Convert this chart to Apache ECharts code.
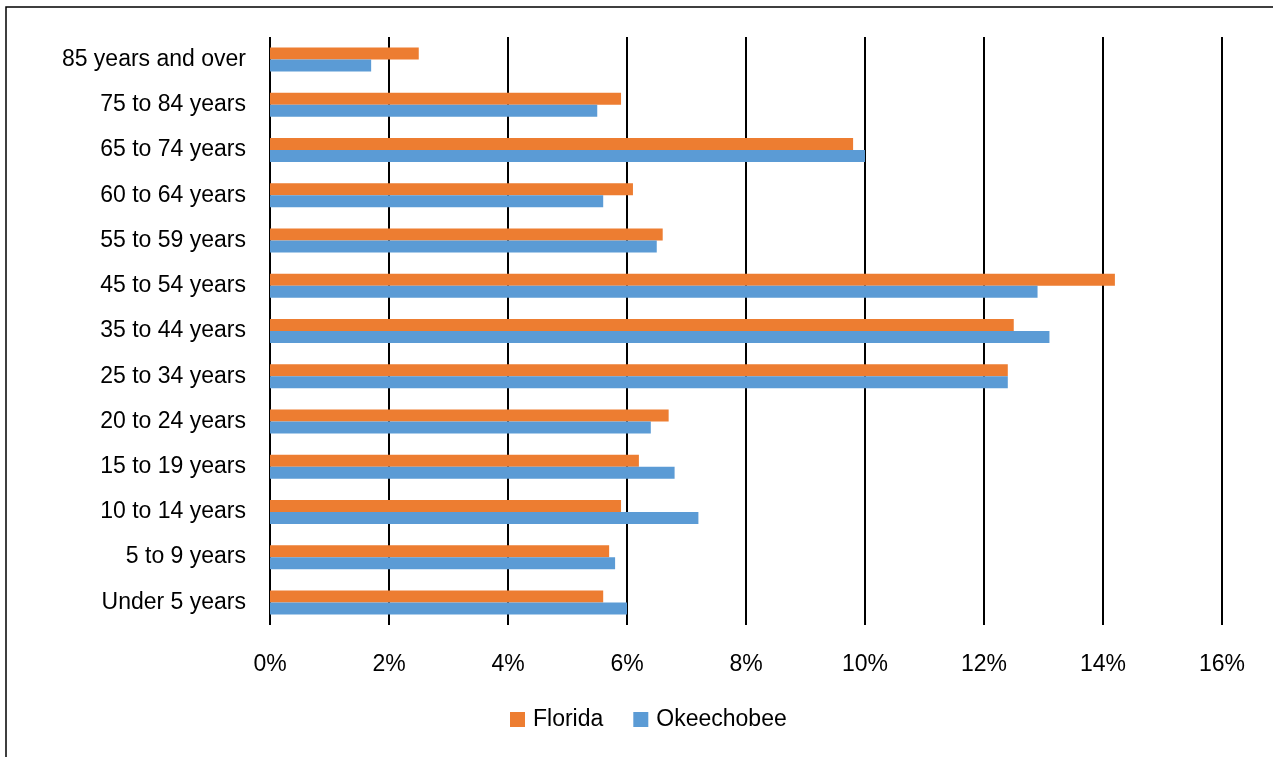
<!DOCTYPE html>
<html>
<head>
<meta charset="utf-8">
<script src="https://cdn.jsdelivr.net/npm/echarts@6/dist/echarts.min.js"></script>
<style>html,body{margin:0;padding:0;background:#fff;}#c{width:1273px;height:757px;}</style>
</head>
<body>
<div id="c"></div>
<script>
// categories bottom-to-top (ECharts category y axis starts at bottom)
const categories = ["Under 5 years","5 to 9 years","10 to 14 years","15 to 19 years","20 to 24 years","25 to 34 years","35 to 44 years","45 to 54 years","55 to 59 years","60 to 64 years","65 to 74 years","75 to 84 years","85 years and over"];
const florida = [5.6, 5.7, 5.9, 6.2, 6.7, 12.4, 12.5, 14.2, 6.6, 6.1, 9.8, 5.9, 2.5];
const okeechobee = [6.0, 5.8, 7.2, 6.8, 6.4, 12.4, 13.1, 12.9, 6.5, 5.6, 10.0, 5.5, 1.7];
const seriesNames = ["Florida", "Okeechobee"];
const colors = ["#ED7D31", "#5B9BD5"];

const chart = echarts.init(document.getElementById('c'), null, {renderer: 'canvas'});
const font = "'Liberation Sans', Arial, sans-serif";
const fs = 23;
chart.setOption({
  animation: false,
  backgroundColor: '#fff',
  graphic: [{
    type: 'rect', shape: {x: 6, y: 7, width: 1300, height: 800},
    style: {fill: 'none', stroke: '#000', lineWidth: 1.5}, silent: true
  }],
  grid: {left: 270, right: 51, top: 37, bottom: 132, containLabel: false},
  legend: {
    data: seriesNames, top: 703, left: 505,
    itemWidth: 15, itemHeight: 15, itemGap: 30,
    icon: 'rect',
    textStyle: {fontFamily: font, fontSize: fs, color: '#000', padding: [0, 0, 0, 3]}
  },
  xAxis: {
    type: 'value', min: 0, max: 16, interval: 2,
    axisLine: {show: false}, axisTick: {show: false},
    splitLine: {show: true, lineStyle: {color: '#000', width: 2}},
    axisLabel: {formatter: v => v + '%', fontFamily: font, fontSize: fs, color: '#000', margin: 28}
  },
  yAxis: {
    type: 'category', data: categories,
    axisLine: {show: false}, axisTick: {show: false},
    axisLabel: {fontFamily: font, fontSize: fs, color: '#000', margin: 24, padding: [3, 0, 0, 0]}
  },
  series: [
    {name: seriesNames[0], type: 'bar', data: florida, barWidth: 12, barGap: '0%', itemStyle: {color: colors[0]}},
    {name: seriesNames[1], type: 'bar', data: okeechobee, barWidth: 12, barGap: '0%', itemStyle: {color: colors[1]}}
  ]
});
</script>
</body>
</html>
